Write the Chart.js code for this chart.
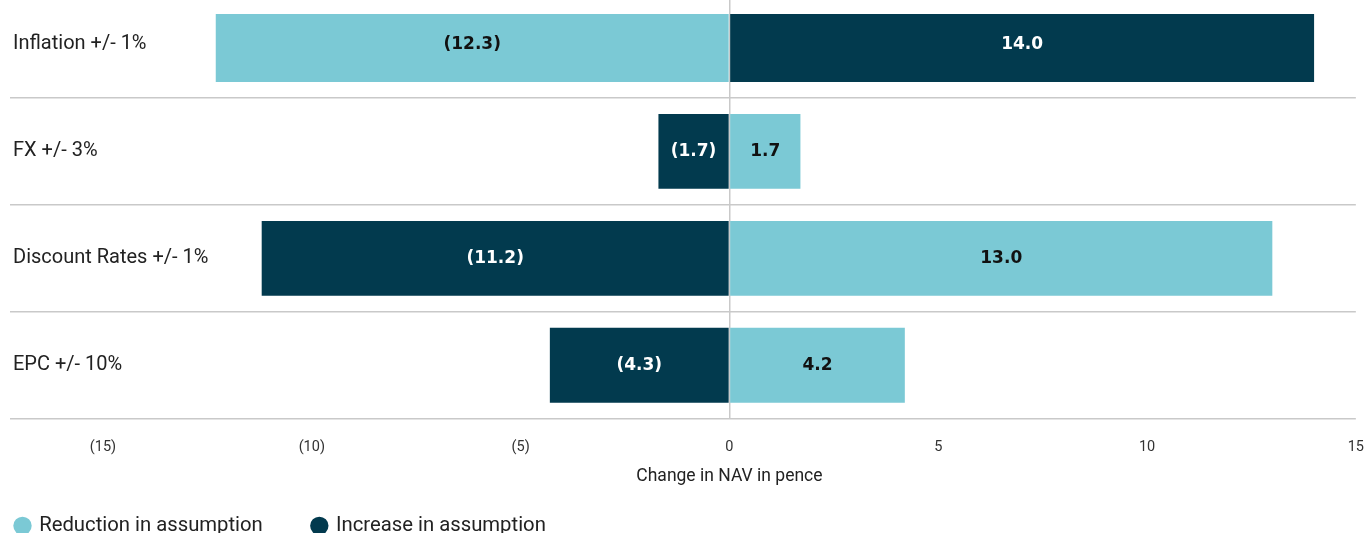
<!DOCTYPE html>
<html>
<head>
<meta charset="utf-8">
<script src="https://cdn.jsdelivr.net/npm/chart.js@4/dist/chart.umd.min.js"></script>
<style>
  html, body { margin: 0; padding: 0; background: #fff; overflow: hidden; }
  #wrap { position: relative; width: 1366px; height: 555px; margin-top: -9px; }
</style>
</head>
<body>
<div id="wrap"><canvas id="sensChart"></canvas></div>
<script>
// categories and values (pence per share)
const categories = ["Inflation +/- 1%", "FX +/- 3%", "Discount Rates +/- 1%", "EPC +/- 10%"];
const reductionValues = [-12.3, 1.7, 13.0, 4.2];
const increaseValues = [14.0, -1.7, -11.2, -4.3];
const seriesNames = ["Reduction in assumption", "Increase in assumption"];

const lightBlue = "#7bc9d5";
const darkBlue = "#023a4e";
const gridGrey = "#c9c9c9";

function fmt(v) {
    return v < 0 ? "(" + Math.abs(v).toFixed(1) + ")" : v.toFixed(1);
}

// writes the value in the middle of every bar
const barLabels = {
    id: "barLabels",
    afterDatasetsDraw(chart) {
        const ctx = chart.ctx;
        ctx.save();
        ctx.font = "bold 17px 'DejaVu Sans'";
        ctx.textAlign = "center";
        ctx.textBaseline = "middle";
        chart.data.datasets.forEach(function (ds, i) {
            const meta = chart.getDatasetMeta(i);
            meta.data.forEach(function (bar, j) {
                const x = (bar.x + bar.base) / 2;
                ctx.fillStyle = ds.backgroundColor === darkBlue ? "#ffffff" : "#111111";
                ctx.fillText(fmt(ds.data[j]), x, bar.y);
            });
        });
        ctx.restore();
    }
};

const ctx = document.getElementById("sensChart").getContext("2d");
new Chart(ctx, {
    type: "bar",
    data: {
        labels: categories,
        datasets: [
            { label: seriesNames[0], data: reductionValues, backgroundColor: lightBlue },
            { label: seriesNames[1], data: increaseValues, backgroundColor: darkBlue }
        ]
    },
    options: {
        indexAxis: "y",
        responsive: true,
        maintainAspectRatio: false,
        animation: false,
        // negative left padding so the legend (which adds its own padding) starts at the edge
        layout: { padding: { left: -34, right: 10, top: 0, bottom: 0 } },
        datasets: {
            bar: {
                barPercentage: 0.7,
                categoryPercentage: 1,
                clip: { left: 0, right: 0, top: -23, bottom: 0 }
            }
        },
        scales: {
            x: {
                stacked: true,
                min: -15,
                max: 15,
                z: 1,
                border: { display: false },
                grid: {
                    drawTicks: true,
                    tickLength: 18,
                    tickColor: "rgba(0,0,0,0)",
                    color: (c) => (c.tick && c.tick.value === 0 ? gridGrey : "rgba(0,0,0,0)"),
                    lineWidth: 1.5
                },
                ticks: {
                    stepSize: 5,
                    padding: 2,
                    color: "#333",
                    font: { family: "Roboto", size: 14.5 },
                    callback: (v) => (v < 0 ? "(" + Math.abs(v) + ")" : String(v))
                },
                title: {
                    display: true,
                    text: "Change in NAV in pence",
                    color: "#222",
                    font: { family: "Roboto", size: 17.5 },
                    padding: { top: 0, bottom: -21 }
                },
                afterFit: (scale) => { scale.height = 47; }
            },
            y: {
                stacked: true,
                border: { display: false },
                grid: {
                    offset: true,
                    color: gridGrey,
                    lineWidth: 1.5,
                    tickLength: 93
                },
                ticks: {
                    mirror: true,
                    padding: -90,
                    color: "#222",
                    font: { family: "Roboto", size: 20 }
                },
                afterFit: (scale) => { scale.width = 137; }
            }
        },
        plugins: {
            legend: {
                position: "bottom",
                align: "start",
                labels: {
                    usePointStyle: true,
                    pointStyle: "circle",
                    boxWidth: 13,
                    boxHeight: 13,
                    padding: 50,
                    color: "#222",
                    font: { family: "Roboto", size: 20.3 }
                }
            },
            tooltip: { enabled: false }
        }
    },
    plugins: [barLabels]
});
</script>
</body>
</html>
